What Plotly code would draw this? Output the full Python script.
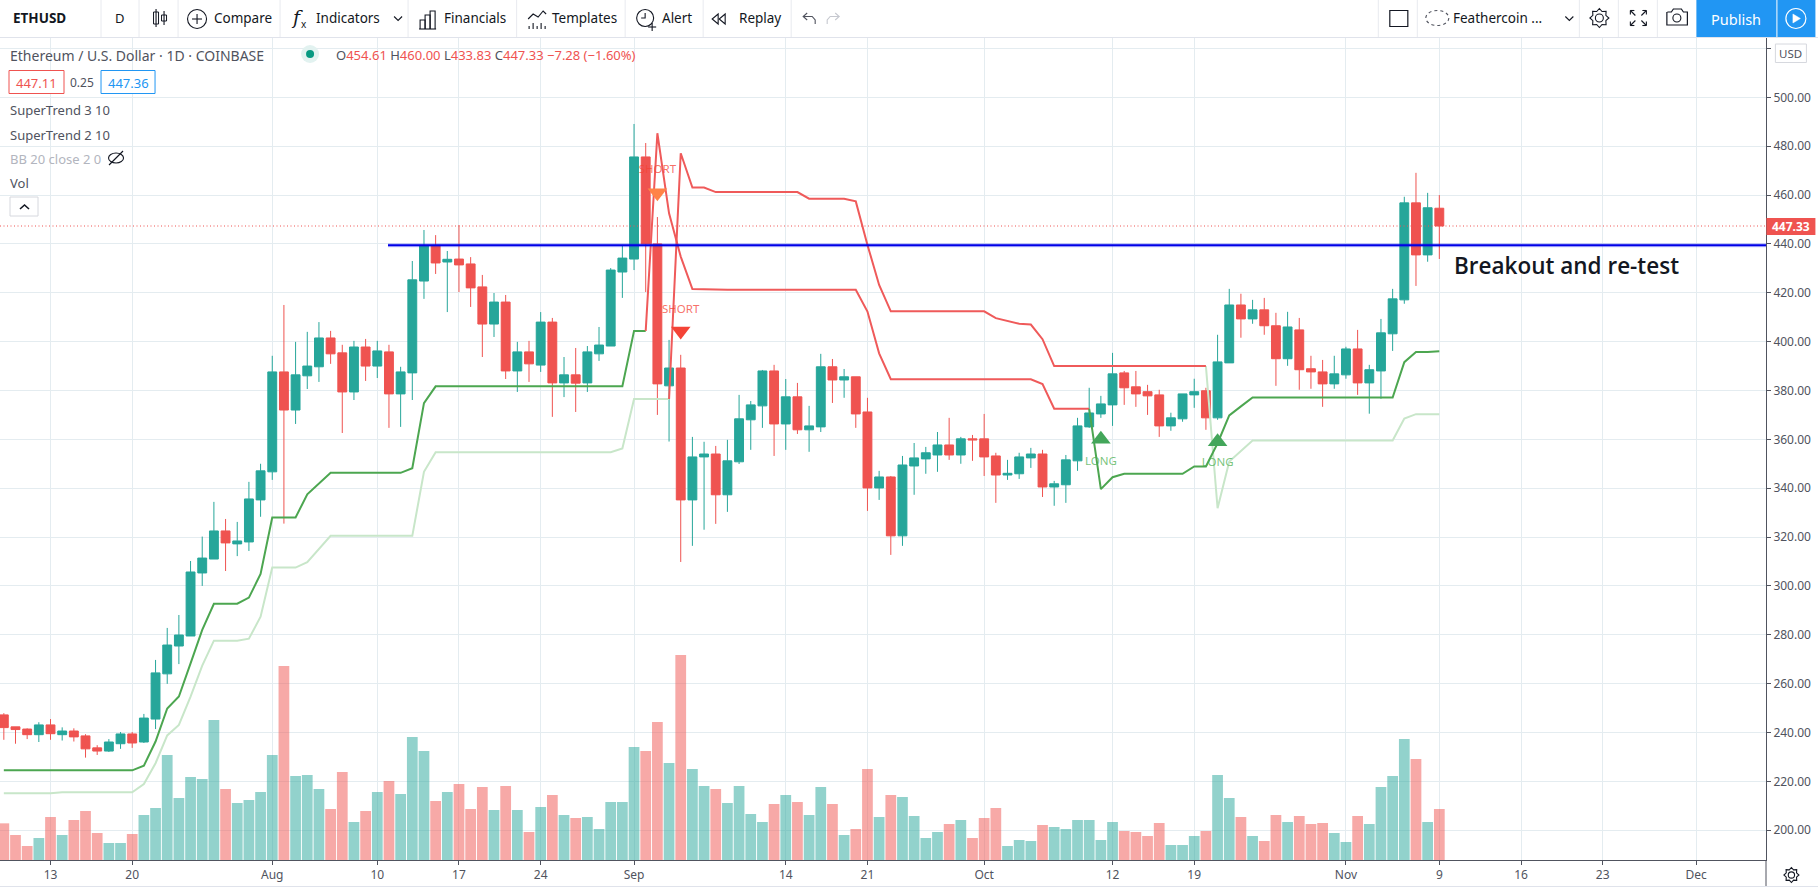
import math
import pandas as pd
import plotly.graph_objects as go

# ---------- data ----------
dates = pd.date_range("2020-07-09", "2020-11-09", freq="D")

opens = [247.2,242.3,241.4,239.1,243.1,239.1,240.6,238.6,233.7,232.4,235.4,239.4,236.1,245.5,264.0,275.4,279.5,305.3,311.0,322.5,317.2,318.0,335.2,
 346.7,387.6,372.0,386.0,389.7,401.5,395.4,379.4,397.8,390.0,395.8,378.6,387.2,424.8,439.4,432.6,433.8,431.8,422.4,407.2,416.2,388.0,395.8,390.4,408.0,383.1,386.4,383.1,395.0,398.2,428.5,
 433.8,475.6,440.0,381.9,389.2,335.2,352.8,354.0,337.3,350.8,368.0,373.7,388.0,366.3,377.4,363.9,365.1,389.7,384.3,385.6,371.2,340.1,344.6,320.5,349.1,352.0,353.6,357.7,353.6,360.2,
 360.2,353.2,345.4,345.9,352.4,354.0,340.5,341.4,351.2,365.1,370.4,374.1,387.2,381.5,379.5,378.2,365.5,368.4,378.2,379.9,368.8,391.3,415.0,409.3,413.0,406.5,393.0,404.8,388.9,387.6,382.7,
 386.4,397.0,383.1,388.0,403.2,417.1,456.8,435.5,454.61]
highs = [247.9,242.3,241.7,244.2,245.5,242.1,241.7,239.3,234.8,237.3,240.2,240.2,247.6,269.7,282.8,288.1,310.2,320.2,334.4,327.4,326.2,342.6,350.0,
 394.2,415.0,399.9,404.0,408.0,404.4,398.7,400.3,401.1,400.3,398.7,389.7,433.0,445.7,443.6,437.1,447.7,434.6,427.3,419.9,419.1,399.9,400.3,412.1,409.7,393.7,397.4,398.2,406.0,430.1,439.6,
 489.1,481.3,451.0,400.7,394.6,361.0,359.0,357.3,359.8,378.2,375.7,388.4,390.5,384.7,383.1,373.7,395.0,392.9,388.8,385.6,377.0,347.1,345.0,353.2,358.5,356.9,363.0,368.8,361.0,361.8,
 370.4,354.5,351.6,354.5,356.5,355.7,343.0,353.6,368.8,381.1,377.8,395.4,388.0,388.0,382.3,380.3,370.9,378.6,384.8,381.1,402.8,421.6,419.6,417.1,417.9,411.8,412.2,409.7,394.2,392.5,394.2,
 397.9,404.8,390.5,409.3,421.6,459.3,469.1,460.9,460.00]
lows = [237.0,235.4,237.3,236.1,237.0,236.7,236.3,229.7,230.8,232.0,233.3,233.7,235.7,241.4,259.9,268.0,279.5,300.0,311.0,306.1,312.2,314.3,328.3,
 343.4,325.5,366.3,380.6,383.5,390.9,362.6,376.1,383.9,385.1,364.7,365.1,376.1,417.5,427.7,412.1,420.3,414.2,393.7,401.9,384.7,379.4,383.5,387.6,369.2,377.3,371.2,379.4,392.1,398.2,417.9,
 429.3,420.3,370.0,359.1,309.8,316.4,323.0,325.4,330.3,349.9,355.7,364.7,353.2,355.7,362.2,354.9,363.0,374.9,377.0,364.7,330.7,335.2,312.7,316.4,337.3,345.9,346.7,351.6,350.0,351.2,
 345.0,334.0,343.4,343.8,348.3,336.4,332.8,334.0,347.1,364.7,368.8,365.5,374.1,373.3,370.0,361.0,363.5,367.2,372.9,363.9,368.0,391.3,401.6,407.3,402.8,381.9,390.1,380.3,380.7,373.3,380.7,
 384.8,378.2,370.5,376.6,396.2,415.5,422.8,432.7,433.83]
closes = [242.0,241.2,239.1,243.1,239.5,240.6,238.2,233.3,232.4,236.1,239.4,235.7,245.9,264.4,275.8,279.9,305.7,311.4,322.5,317.6,318.4,335.6,347.1,
 387.6,372.0,386.4,390.0,401.5,395.0,379.4,397.8,390.0,396.2,378.6,387.6,425.3,439.4,432.2,433.7,431.4,422.0,407.2,416.2,388.0,395.8,390.9,408.0,383.1,386.4,383.0,395.8,398.6,429.3,434.2,
 475.6,440.0,382.7,389.2,335.2,352.8,354.0,337.3,351.2,368.4,374.1,388.0,366.3,377.4,363.9,365.5,389.7,384.3,385.6,370.4,340.1,344.6,320.5,349.5,352.4,354.5,357.7,353.6,360.2,359.8,
 352.8,345.4,346.1,352.8,354.0,340.5,341.8,351.6,365.5,370.8,374.5,386.8,381.1,378.6,377.8,365.5,368.8,378.6,379.5,368.8,391.7,415.0,409.3,413.0,406.5,393.0,406.0,388.5,387.6,382.7,386.8,
 397.0,383.1,388.5,403.6,417.5,456.8,435.5,454.8,447.33]

volume = [110,75,42,66,129,75,120,147,81,51,51,78,135,156,315,186,249,243,420,213,171,180,204,
 315,582,252,255,213,153,264,114,147,204,237,198,369,327,177,204,228,153,219,150,222,150,84,159,195,135,126,129,93,174,174,
 339,327,414,291,615,273,222,213,171,222,138,114,168,195,174,135,219,168,75,93,273,129,195,189,132,66,84,108,120,66,
 126,156,42,60,57,105,99,93,120,120,60,114,87,84,72,111,45,45,72,87,255,186,129,72,57,135,114,132,108,111,81,
 54,132,108,219,252,363,303,114,153]

# SuperTrend 3 10: green while rising, red while falling
trend_a = ([224.5]*12 + [226.4,236.3,249.8,254.7,268.3,282.0,292.7,292.7,292.7,295.2,304.9]
  + [328.0]*3 + [337.5,342.0] + [346.3]*7 + [348.2,374.8] + [381.7]*17
  + [404.4,404.4,485.3,452.5,434.8,421.5,421.3] + [421.2]*13 + [412.3,395.2] + [384.6]*8
  + [384.6]*5 + [382.6] + [372.5]*4 + [339.6,344.5] + [345.9]*6 + [348.9,348.9,358.4,369.8,373.5] + [377.1]*8
  + [377.1]*5 + [391.6,395.8,395.8,396.1])
trend_a_red_first, trend_a_red_last = 55, 94   # Sep 2 .. Oct 11 (join points)

# SuperTrend 2 10: pale green while rising, red while falling
trend_b = ([215.1]*5 + [215.5]*7 + [218.9,227.4,238.8,243.1,254.7,267.4,277.6,277.6,277.6,278.4,287.4]
  + [307.5]*3 + [309.7,315.0] + [320.5]*8 + [346.7] + [354.7]*16 + [356.3]
  + [376.5]*4 + [477.1,463.1,463.1] + [461.2]*8 + [458.5]*4 + [457.4,439.6,423.2] + [412.4]*8
  + [412.4,409.6,408.6,407.3,407.0,401.0] + [390.0]*14 + [331.8,350.9,355.3] + [359.5]*8
  + [359.5]*5 + [368.5,370.3,370.3,370.3])
trend_b_red_first, trend_b_red_last = 57, 104  # Sep 4 .. Oct 21 (join points)

level_value = 439.5
level_start = "2020-08-10 22:00"
last_price = 447.33

short_dates = ["2020-09-03", "2020-09-05"]
short_marks = [460.9, 404.4]
short_texts = [470.0, 413.0]
long_dates = ["2020-10-11", "2020-10-21"]
long_marks = [360.0, 359.0]
long_texts = [350.7, 350.3]

x_tick_dates = ["2020-07-13","2020-07-20","2020-08-01","2020-08-10","2020-08-17","2020-08-24","2020-09-01","2020-09-14","2020-09-21",
                "2020-10-01","2020-10-12","2020-10-19","2020-11-01","2020-11-09","2020-11-16","2020-11-23","2020-12-01"]
x_tick_text = ["13","20","Aug","10","17","24","Sep","14","21","Oct","12","19","Nov","9","16","23","Dec"]
y_ticks = list(range(200, 521, 20))

# ---------- style ----------
TEAL, RED = "#26a69a", "#ef5350"
VOL_UP, VOL_DOWN = "rgba(38,166,154,0.5)", "rgba(239,83,80,0.5)"
GREEN, PALE, LINE_RED = "#4ca650", "#c8e6c9", "#ef5a5a"
GRID, AXIS, LABEL, INK = "#e4ecf0", "#50535e", "#50535e", "#131722"
FONT = "Noto Sans"
W, H, PX0, PY0, PY1 = 1818, 889, 1765.6, 37, 860

def X(p): return p / PX0
def Y(p): return (PY1 - p) / (PY1 - PY0)

fig = go.Figure()

fig.add_trace(go.Bar(x=dates, y=volume, yaxis="y",
                     width=0.92 * 86400000,
                     marker=dict(color=[VOL_UP if c >= o else VOL_DOWN for o, c in zip(opens, closes)], line_width=0),
                     hoverinfo="skip", showlegend=False))

def line(xs, ys, color, width=2):
    fig.add_trace(go.Scatter(x=xs, y=ys, yaxis="y2", mode="lines", line=dict(color=color, width=width),
                             hoverinfo="skip", showlegend=False))

# pale series, drawn first
line(dates[:trend_b_red_first + 1], trend_b[:trend_b_red_first + 1], PALE)
line(dates[trend_b_red_last - 1:], trend_b[trend_b_red_last - 1:], PALE)

fig.add_trace(go.Candlestick(x=dates, open=opens, high=highs, low=lows, close=closes, yaxis="y2",
                             increasing=dict(line=dict(color=TEAL, width=1), fillcolor=TEAL),
                             decreasing=dict(line=dict(color=RED, width=1), fillcolor=RED),
                             whiskerwidth=0, hoverinfo="skip", showlegend=False))

line(dates[:trend_a_red_first + 1], trend_a[:trend_a_red_first + 1], GREEN)
line(dates[trend_a_red_first:trend_a_red_last], trend_a[trend_a_red_first:trend_a_red_last], LINE_RED)
line(dates[trend_a_red_last - 1:], trend_a[trend_a_red_last - 1:], GREEN)
line(dates[trend_b_red_first:trend_b_red_last], trend_b[trend_b_red_first:trend_b_red_last], LINE_RED)

x_left = pd.Timestamp("2020-07-13") - pd.Timedelta(days=50.5 / 11.668)
x_right = pd.Timestamp("2020-07-13") + pd.Timedelta(days=(PX0 - 50.5) / 11.668)

line([level_start, x_right], [level_value, level_value], "rgba(0,0,255,0.22)", 4)
line([level_start, x_right], [level_value, level_value], "#0000e6", 2)

def marks(xs, ys, symbol, colors):
    fig.add_trace(go.Scatter(x=xs, y=ys, yaxis="y2", mode="markers",
                             marker=dict(symbol=symbol, size=17, color=colors, line_width=0),
                             hoverinfo="skip", showlegend=False))

def labels(xs, ys, text, color):
    fig.add_trace(go.Scatter(x=xs, y=ys, yaxis="y2", mode="text", text=[text] * len(xs),
                             textfont=dict(family=FONT, size=11.5, color=color),
                             hoverinfo="skip", showlegend=False))

marks(short_dates, short_marks, "triangle-down", ["#ff8347", "#f44336"])
marks(long_dates, long_marks, "triangle-up", ["#43a65a", "#43a65a"])
labels(short_dates, short_texts, "SHORT", "rgba(244,67,54,0.75)")
labels(long_dates, long_texts, "LONG", "rgba(76,175,80,0.75)")

# ---------- page furniture ----------
ann, shp = [], []

# last-price dotted line, on the price axis
shp.append(dict(type="line", xref="paper", yref="y2", x0=0, x1=1, y0=last_price, y1=last_price,
                line=dict(color=RED, width=1, dash="1px,2.5px"), layer="above"))

def txt(x, y, text, size=13, color=INK, anchor="left", weight=None, family=FONT):
    f = dict(family=family, size=size, color=color)
    if weight: f["weight"] = weight
    ann.append(dict(x=X(x), y=Y(y), xref="paper", yref="paper", text=text, showarrow=False,
                    xanchor=anchor, yanchor="middle", font=f, borderpad=0, borderwidth=0))

def rect(x0, y0, x1, y1, fill="rgba(0,0,0,0)", stroke=None, width=1):
    shp.append(dict(type="rect", xref="paper", yref="paper", x0=X(x0), y0=Y(y0), x1=X(x1), y1=Y(y1),
                    fillcolor=fill, line=dict(color=stroke or "rgba(0,0,0,0)", width=width if stroke else 0), layer="above"))

def seg(pts, color=INK, width=1.1, close=False, dash=None, fill=None):
    d = "M" + " L".join(f"{X(a):.5f},{Y(b):.5f}" for a, b in pts) + (" Z" if close else "")
    l = dict(color=color, width=width)
    if dash: l["dash"] = dash
    shp.append(dict(type="path", xref="paper", yref="paper", path=d, line=l,
                    fillcolor=fill or "rgba(0,0,0,0)", layer="above"))

def circ(cx, cy, r, stroke=INK, fill="rgba(0,0,0,0)", width=1.1, dash=None, ry=None):
    l = dict(color=stroke, width=width)
    if dash: l["dash"] = dash
    ry = ry if ry is not None else r
    shp.append(dict(type="circle", xref="paper", yref="paper", x0=X(cx - r), x1=X(cx + r), y0=Y(cy - ry), y1=Y(cy + ry),
                    line=l, fillcolor=fill, layer="above"))

# toolbar
rect(0, 0, W, 37, fill="#ffffff")
seg([(0, 37.5), (W, 37.5)], color="#e0e3eb", width=1)
for sx in [101, 139, 178, 280, 408, 516.5, 625, 703, 791, 1378, 1417, 1579, 1618, 1657]:
    seg([(sx, 0), (sx, 37)], color="#e8eaef", width=1)
txt(13, 18, "ETHUSD", 13.5, weight=700)
txt(120, 18, "D", 13, anchor="center")
txt(214, 18, "Compare", 13.5)
txt(316, 18, "Indicators", 13.5)
txt(444, 18, "Financials", 13.5)
txt(552, 18, "Templates", 13.5)
txt(662, 18, "Alert", 13.5)
txt(739, 18, "Replay", 13.5)
txt(1453, 18, "Feathercoin ...", 13.5)
# chart-type icon
seg([(156, 9), (156, 27)]); rect(153.5, 12, 158.5, 24, stroke=INK)
seg([(164, 11), (164, 25)]); rect(161.5, 15, 166.5, 21, stroke=INK)
# compare
circ(197, 19, 9.5); seg([(197, 14), (197, 24)]); seg([(192, 19), (202, 19)])
# indicators
txt(297, 17, "<i>f</i>", 19, family="DejaVu Serif", anchor="center"); txt(304, 24, "x", 10, anchor="center")
# chevrons
for cx in [398, 1569]:
    seg([(cx - 4, 16.5), (cx, 20.5), (cx + 4, 16.5)])
# financials
seg([(420, 29), (420, 20), (425, 20), (425, 29)]); seg([(425, 29), (425, 15), (430, 15), (430, 29)])
seg([(430, 29), (430, 11), (435, 11), (435, 29)]); seg([(419, 29), (436, 29)])
# templates
seg([(528, 19), (533, 14), (538, 17), (543, 11), (546, 14)])
for i, tx in enumerate([529, 533, 537, 541, 545]):
    seg([(tx, 26 - (i % 2) * 3), (tx, 29)])
# alert
circ(645, 18, 8.5); seg([(645, 13), (645, 18), (641, 18)]); seg([(648, 27), (656, 27)]); seg([(652, 23), (652, 31)])
# replay
seg([(718, 14), (712, 19), (718, 24)], close=True); seg([(725, 14), (719, 19), (725, 24)], close=True)
# undo / redo
seg([(807, 20), (803, 16.5), (807, 13)], color="#50535e"); seg([(803, 16.5), (812, 16.5), (815, 20), (815, 24)], color="#50535e")
seg([(835, 20), (839, 16.5), (835, 13)], color="#c6c8cf"); seg([(839, 16.5), (830, 16.5), (827, 20), (827, 24)], color="#c6c8cf")
# rectangle icon
rect(1389.5, 10.5, 1407.5, 26.5, stroke=INK, width=1.2)
# cloud
circ(1437, 18, 11.5, dash="dot", ry=7.5, stroke="#50535e")
# gear helper
def gear(cx, cy, r):
    circ(cx, cy, r * 0.42, width=1.1)
    pts = []
    for k in range(16):
        a = k * math.pi / 8
        rr = r if k % 2 == 0 else r * 0.74
        pts.append((cx + rr * math.cos(a), cy + rr * math.sin(a)))
    seg(pts, close=True)
gear(1599, 18, 9.5)
# fullscreen
for sx, sy in [(-1, -1), (1, -1), (-1, 1), (1, 1)]:
    cx, cy = 1638 + 8 * sx, 18 + 7.5 * sy
    seg([(cx, cy), (cx - 4 * sx, cy)]); seg([(cx, cy), (cx, cy - 4 * sy)]); seg([(cx, cy), (cx - 5 * sx, cy - 5 * sy)])
# camera
seg([(1667, 12), (1671, 12), (1673, 9), (1681, 9), (1683, 12), (1687, 12), (1687, 25), (1666.5, 25), (1666.5, 12)], width=1.2)
circ(1676.5, 18, 4)
# publish
rect(1696, 0, 1776, 37, fill="#2196f3")
rect(1777, 0, 1815, 37, fill="#2196f3")
txt(1736, 18.5, "Publish", 14.5, "#ffffff", anchor="center")
circ(1795.5, 18.5, 10, stroke="#ffffff", width=1.2)
seg([(1792.5, 14), (1800, 18.5), (1792.5, 23)], color="#ffffff", close=True, fill="#ffffff", width=0.5)

# chart legend
txt(10, 55, "Ethereum / U.S. Dollar · 1D · COINBASE", 14, "#50535e")
circ(310, 54, 9, stroke="rgba(0,0,0,0)", fill="#e2f2f0", width=0)
circ(310, 54, 4, stroke="rgba(0,0,0,0)", fill="#089981", width=0)
g = "#50535e"
ohlc = (f"<span style='color:{g}'>O</span>454.61 <span style='color:{g}'>H</span>460.00 "
        f"<span style='color:{g}'>L</span>433.83 <span style='color:{g}'>C</span>447.33 −7.28 (−1.60%)")
txt(336, 55.5, ohlc, 13, RED)
shp.append(dict(type="rect", xref="paper", yref="paper", x0=X(9), x1=X(64), y0=Y(70.5), y1=Y(93.5), fillcolor="#ffffff",
                line=dict(color=RED, width=1), layer="above"))
shp.append(dict(type="rect", xref="paper", yref="paper", x0=X(101), x1=X(155), y0=Y(70.5), y1=Y(93.5), fillcolor="#ffffff",
                line=dict(color="#2196f3", width=1), layer="above"))
txt(36.5, 82.5, "447.11", 13, RED, anchor="center")
txt(82, 82.5, "0.25", 12, g, anchor="center")
txt(128, 82.5, "447.36", 13, "#2196f3", anchor="center")
txt(10, 110.5, "SuperTrend 3 10", 13, g)
txt(10, 134.5, "SuperTrend 2 10", 13, g)
txt(10, 158.5, "BB 20 close 2 0", 13, "#b2b5be")
txt(10, 182.5, "Vol", 13, g)
circ(116, 158, 7.5, ry=5, stroke=INK)
seg([(109, 165), (123, 151)])
rect(10, 197, 38, 216, stroke="#d6d8de")
seg([(20, 209), (24.5, 205), (29, 209)], width=1.6)

txt(1454, 265, "Breakout and re-test", 22.5, INK, weight=600, family="Open Sans")

# price axis extras
rect(1775, 44, 1806, 62.5, fill="#ffffff", stroke="#d6d8de")
txt(1790, 53, "USD", 11.5, g, anchor="center")
rect(1766, 218, 1815, 235, fill=RED)
txt(1790.5, 226.5, "447.33", 12, "#ffffff", anchor="center", weight=700)
# bottom strip
seg([(0, 886.5), (W, 886.5)], color="#e0e3eb", width=1)
seg([(PX0, 860), (PX0, 886)], color=AXIS, width=1)
gear(1791, 875, 7.5)

fig.update_layout(
    width=W, height=H, margin=dict(l=0, r=W - PX0, t=PY0, b=H - PY1),
    paper_bgcolor="#ffffff", plot_bgcolor="#ffffff", showlegend=False,
    boxgap=0.24, boxgroupgap=0, bargap=0.08, hovermode=False, dragmode=False,
    font=dict(family=FONT, size=12, color=LABEL),
    xaxis=dict(type="date", range=[x_left, x_right], tickmode="array", tickvals=x_tick_dates, ticktext=x_tick_text,
               showgrid=True, gridcolor=GRID, gridwidth=1, ticks="outside", ticklen=4, tickcolor=AXIS,
               showline=True, linecolor=AXIS, linewidth=1, zeroline=False, rangeslider=dict(visible=False),
               tickfont=dict(family=FONT, size=12, color=LABEL)),
    yaxis=dict(range=[0, 2469], visible=False, showgrid=False, zeroline=False, fixedrange=True),
    yaxis2=dict(overlaying="y", side="right", anchor="x", range=[187.8, 524.7], tickmode="array", tickvals=y_ticks,
                ticktext=[f"{v:.2f}" if v < 520 else "" for v in y_ticks], showgrid=True, gridcolor=GRID, gridwidth=1, zeroline=False,
                ticks="outside", ticklen=4, tickcolor=AXIS, showline=True, linecolor=AXIS, linewidth=1,
                tickfont=dict(family=FONT, size=12, color=LABEL)),
    annotations=ann, shapes=shp,
)

fig.write_html("out.html", config={"displayModeBar": False},
               post_script="document.body.style.margin='0';document.body.style.overflow='hidden';")
